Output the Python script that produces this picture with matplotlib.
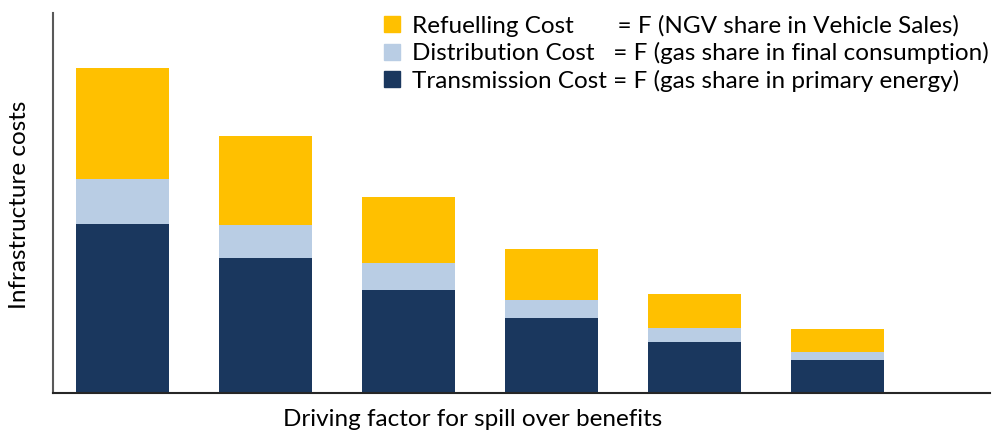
import numpy as np
import matplotlib
matplotlib.use("Agg")
from matplotlib import pyplot as plt
from matplotlib.patches import Patch

# bar heights (arbitrary units)
transmission = [169, 135, 103, 75, 51, 33]
distribution = [45, 33, 27, 18, 14, 8]
refuelling = [111, 89, 66, 51, 34, 23]

c_trans = '#1a375e'
c_dist = '#b9cde4'
c_ref = '#ffc000'

plt.rcParams['font.family'] = ['Lato', 'DejaVu Sans']

fig = plt.figure(figsize=(9.92, 4.32), dpi=100)
ax = fig.add_axes([53/992, 1 - 393/432, (990-53)/992, (393-13)/432])

x = np.arange(len(transmission))
w = 0.65
t = np.array(transmission)
d = np.array(distribution)
r = np.array(refuelling)
ax.bar(x, t, w, color=c_trans)
ax.bar(x, d, w, bottom=t, color=c_dist)
ax.bar(x, r, w, bottom=t + d, color=c_ref)

ax.set_xlim(-0.486, 6.07)
ax.set_ylim(0, 380)
ax.set_xticks([])
ax.set_yticks([])
ax.spines['top'].set_visible(False)
ax.spines['right'].set_visible(False)
ax.spines['left'].set_color('#595959')
ax.spines['left'].set_linewidth(1.5)
ax.spines['bottom'].set_color('#262626')
ax.spines['bottom'].set_linewidth(1.5)

handles = [Patch(color=c_ref), Patch(color=c_dist), Patch(color=c_trans)]
labels = ['Refuelling Cost       = F (NGV share in Vehicle Sales)',
          'Distribution Cost   = F (gas share in final consumption)',
          'Transmission Cost = F (gas share in primary energy)']
ax.legend(handles, labels, loc='upper left', bbox_to_anchor=(374/992, 1 - 5/432),
          bbox_transform=fig.transFigure, frameon=False, fontsize=17.5,
          handlelength=0.65, handleheight=0.65, handletextpad=0.5,
          labelspacing=0.22, borderaxespad=0.0)

fig.text(20/992, 1 - 205/432, 'Infrastructure costs', rotation=90,
         ha='center', va='center', fontsize=17.5)
fig.text(473/992, 1 - 419/432, 'Driving factor for spill over benefits',
         ha='center', va='center', fontsize=17.5)

fig.savefig('out.png', dpi=100)
